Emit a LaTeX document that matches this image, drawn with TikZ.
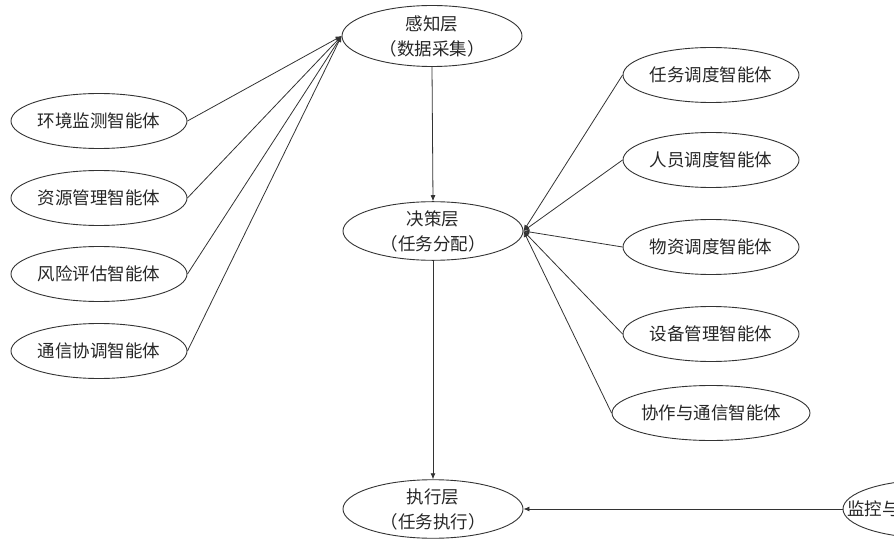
\documentclass[tikz,border=0pt]{standalone}
\usepackage{fontspec}
\setmainfont{Noto Sans CJK SC}
\usetikzlibrary{arrows.meta,shapes.geometric}
\begin{document}
\begin{tikzpicture}[x=1pt,y=-1pt,
  every node/.style={font=\fontsize{17.5}{25}\selectfont, text=black!85},
  layer/.style={ellipse, draw=black!80, line width=0.9pt, inner sep=0pt, minimum width=180pt, minimum height=59pt, align=center},
  agent/.style={ellipse, draw=black!80, line width=0.9pt, inner sep=0pt, minimum width=176pt, minimum height=55pt},
  conn/.style={draw=black!80, line width=0.8pt, -{Latex[length=6pt,width=5pt]}}]
\useasboundingbox (0,0) rectangle (894,540);
\clip (0,0) rectangle (894,540);
% layers
\node[layer, minimum height=61pt] (per) at (432,36) {感知层\\（数据采集）};
\node[layer, minimum height=58pt] (dec) at (433,231) {决策层\\（任务分配）};
\node[layer, minimum height=58pt] (exe) at (433,509) {执行层\\（任务执行）};
% left agents
\node[agent] (l1) at (99,121) {环境监测智能体};
\node[agent] (l2) at (99,198) {资源管理智能体};
\node[agent] (l3) at (99,274) {风险评估智能体};
\node[agent] (l4) at (99,351) {通信协调智能体};
% right agents
\node[agent] (r1) at (711,75) {任务调度智能体};
\node[agent] (r2) at (711,160) {人员调度智能体};
\node[agent] (r3) at (711,247) {物资调度智能体};
\node[agent] (r4) at (711,334) {设备管理智能体};
\node[agent] (r5) at (711,413) {协作与通信智能体};
% monitoring agent (cut off at the right edge)
\node[agent, minimum height=58pt] (mon) at (931,509) {};
\node[anchor=west, inner sep=0pt] (montext) at (847,509) {监控与};
% connectors
\foreach \n in {l1,l2,l3,l4} \draw[conn] (\n.east) -- (per.west);
\foreach \n in {r1,r2,r3,r4,r5} \draw[conn] (\n.west) -- (dec.east);
\draw[conn] (per.south) -- (dec.north);
\draw[conn] (dec.south) -- (exe.north);
\draw[conn] (mon.west) -- (exe.east);
\end{tikzpicture}
\end{document}
